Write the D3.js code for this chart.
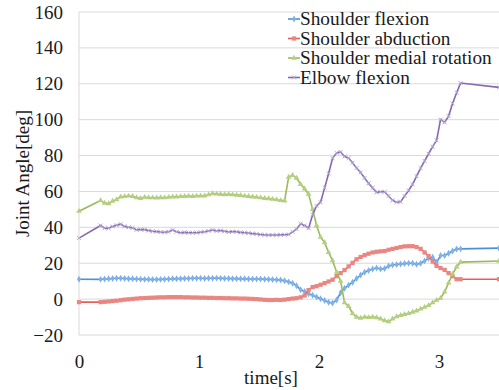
<!DOCTYPE html>
<html>
<head>
<meta charset="utf-8">
<script src="https://cdn.jsdelivr.net/npm/d3@7"></script>
<style>
  body { margin: 0; background: #fff; }
</style>
</head>
<body>
<div id="chart"></div>
<script>
// tempo (s): amostra inicial, trecho a ~30 Hz, amostra final
const times = [0,
  0.18, 0.213, 0.247, 0.28, 0.313, 0.347, 0.38, 0.413, 0.447, 0.48,
  0.513, 0.547, 0.58, 0.613, 0.647, 0.68, 0.713, 0.747, 0.78, 0.813,
  0.847, 0.88, 0.913, 0.947, 0.98, 1.013, 1.047, 1.08, 1.113, 1.147,
  1.18, 1.213, 1.247, 1.28, 1.313, 1.347, 1.38, 1.413, 1.447, 1.48,
  1.513, 1.547, 1.58, 1.613, 1.647, 1.68, 1.713, 1.747, 1.78, 1.813,
  1.847, 1.88, 1.913, 1.947, 1.98, 2.013, 2.047, 2.08, 2.113, 2.147,
  2.18, 2.213, 2.247, 2.28, 2.313, 2.347, 2.38, 2.413, 2.447, 2.48,
  2.513, 2.547, 2.58, 2.613, 2.647, 2.68, 2.713, 2.747, 2.78, 2.813,
  2.847, 2.88, 2.913, 2.947, 2.98, 3.013, 3.047, 3.08, 3.113, 3.147,
  3.18,
  3.5];

const shoulderFlexion = [11.1,
  11.0, 11.2, 11.3, 11.5, 11.6, 11.6, 11.5, 11.4, 11.3, 11.2,
  11.1, 11.0, 11.0, 10.9, 10.9, 11.0, 11.1, 11.2, 11.3, 11.4,
  11.4, 11.5, 11.5, 11.6, 11.6, 11.6, 11.5, 11.6, 11.6, 11.7,
  11.6, 11.5, 11.5, 11.4, 11.4, 11.3, 11.3, 11.2, 11.2, 11.2,
  11.2, 11.1, 11.0, 10.9, 10.8, 10.6, 10.2, 9.6, 8.8, 7.5,
  5.2, 4.2, 3.0, 2.2, 1.2, 0.2, -0.8, -1.8, -2.2, -0.5,
  3.5, 6.0, 7.8, 9.4, 11.5, 13.4, 15.0, 16.0, 16.8, 17.3,
  16.8, 17.0, 18.5, 19.0, 19.3, 19.6, 19.8, 20.0, 20.0, 19.4,
  20.0, 21.3, 22.8, 23.4, 20.5, 24.3, 24.3, 25.5, 26.8, 27.9,
  28.0,
  28.4];

const shoulderAbduction = [-1.7,
  -1.7, -1.5, -1.3, -1.1, -0.9, -0.6, -0.3, -0.1, 0.1, 0.3,
  0.5, 0.6, 0.7, 0.8, 0.9, 1.0, 1.0, 1.1, 1.1, 1.1,
  1.1, 1.0, 1.0, 0.9, 0.9, 0.8, 0.8, 0.7, 0.7, 0.6,
  0.6, 0.5, 0.5, 0.4, 0.4, 0.3, 0.3, 0.2, 0.1, 0.0,
  -0.2, -0.4, -0.5, -0.5, -0.4, -0.5, -0.3, 0.0, 0.3, 0.5,
  1.0, 2.0, 5.0, 6.7, 7.2, 8.0, 8.9, 9.8, 10.8, 12.8,
  14.5, 16.2, 18.2, 20.2, 22.2, 23.5, 24.5, 25.3, 26.0, 26.4,
  26.6, 26.8, 27.5, 28.0, 28.5, 29.0, 29.4, 29.5, 29.5, 29.0,
  28.0, 26.0, 24.0, 21.0, 18.5, 17.3, 16.3, 14.5, 12.8, 11.1,
  11.1,
  11.1];

const shoulderMedialRotation = [49,
  55.0, 53.5, 53.2, 54.6, 55.5, 57.0, 57.2, 57.5, 57.3, 56.6,
  56.2, 56.8, 56.6, 56.5, 56.4, 56.6, 56.5, 56.8, 57.0, 57.0,
  57.2, 57.3, 57.4, 57.3, 57.5, 57.6, 57.6, 58.2, 58.8, 58.6,
  58.4, 58.3, 58.4, 58.2, 58.0, 57.8, 57.5, 57.3, 57.0, 56.8,
  56.5, 56.2, 56.0, 55.7, 55.4, 55.0, 54.8, 68.0, 69.0, 67.5,
  64.0, 61.5, 58.5, 50.0, 41.0, 34.5, 31.5, 26.0, 21.5, 15.0,
  10.0, -2.0, -4.0, -8.0, -10.0, -10.6, -10.0, -10.2, -10.0, -10.3,
  -11.0, -12.0, -12.5, -11.0, -9.7, -9.0, -8.5, -8.0, -7.2, -6.5,
  -5.5, -4.5, -3.5, -2.0, -0.6, 0.5, 4.0, 9.0, 14.0, 18.0,
  20.6,
  21.2];

const elbowFlexion = [34,
  41.0, 39.5, 39.5, 40.5, 41.2, 41.8, 40.5, 40.0, 39.7, 38.6,
  38.8, 38.7, 38.2, 37.8, 37.6, 37.4, 37.3, 37.5, 38.5, 37.5,
  37.0, 37.2, 37.0, 37.0, 37.0, 37.3, 37.5, 38.0, 38.5, 38.0,
  38.2, 37.8, 37.4, 37.6, 37.5, 37.2, 37.0, 36.8, 36.5, 36.3,
  36.0, 35.8, 35.7, 35.7, 35.7, 35.8, 35.9, 36.0, 37.5, 39.0,
  42.0, 41.0, 39.5, 47.0, 52.0, 54.0, 62.0, 70.0, 78.5, 81.5,
  82.0, 79.5, 78.6, 76.0, 73.0, 70.5, 67.5, 64.5, 62.0, 59.5,
  59.8, 59.8, 57.5, 55.0, 54.0, 54.2, 57.5, 60.5, 64.0, 68.5,
  73.0, 77.0, 81.0, 85.0, 88.5, 100.0, 98.5, 102.0, 109.0, 115.0,
  120.4,
  118.0];

const seriesNames = ["Shoulder flexion", "Shoulder abduction", "Shoulder medial rotation", "Elbow flexion"];
const yTicks = [-20, 0, 20, 40, 60, 80, 100, 120, 140, 160];
const xTicks = [0, 1, 2, 3];

const width = 499, height = 390;
const margin = { top: 12, right: 0, bottom: 55, left: 79 };
const serif = '"Liberation Serif"';
const ink = "#1a1a1a";

const series = [
  { name: seriesNames[0], values: shoulderFlexion, color: "#4f8fd8", mark: "#7fb0e6", symbol: d3.symbolDiamond, size: 14 },
  { name: seriesNames[1], values: shoulderAbduction, color: "#e0605c", mark: "#e98682", symbol: d3.symbolSquare, size: 18 },
  { name: seriesNames[2], values: shoulderMedialRotation, color: "#9bbb59", mark: "#b5cf82", symbol: d3.symbolTriangle, size: 14 },
  { name: seriesNames[3], values: elbowFlexion, color: "#8468b0", mark: "#b8a8d6", symbol: d3.symbolTimes, size: 12 }
];

const svg = d3.select("#chart").append("svg")
  .attr("width", width)
  .attr("height", height);

const x = d3.scaleLinear().domain([0, 3.5]).range([margin.left, width - margin.right]);
const y = d3.scaleLinear().domain([-20, 160]).range([height - margin.bottom, margin.top]);

// grade horizontal
svg.append("g")
  .selectAll("line")
  .data(yTicks)
  .enter().append("line")
  .attr("x1", margin.left)
  .attr("x2", width - margin.right)
  .attr("y1", d => y(d))
  .attr("y2", d => y(d))
  .style("stroke", "#d9d9d9")
  .style("stroke-width", 1);

svg.append("line")
  .attr("x1", margin.left).attr("x2", margin.left)
  .attr("y1", y(160)).attr("y2", y(-20))
  .style("stroke", "#d9d9d9");

// eixo y
const yAxis = svg.append("g")
  .attr("transform", `translate(${margin.left - 16},0)`)
  .call(d3.axisLeft(y).tickValues(yTicks).tickSize(0).tickPadding(0));
yAxis.select(".domain").remove();
yAxis.selectAll("text")
  .style("font-family", serif)
  .style("font-size", "19px")
  .style("fill", ink);

// eixo x
const xAxis = svg.append("g")
  .attr("transform", `translate(0,${y(-20) + 19})`)
  .call(d3.axisBottom(x).tickValues(xTicks).tickFormat(d3.format("d")).tickSize(0).tickPadding(0));
xAxis.select(".domain").remove();
xAxis.selectAll("text")
  .style("font-family", serif)
  .style("font-size", "19px")
  .style("fill", ink);

svg.append("text")
  .attr("x", 271)
  .attr("y", 384)
  .attr("text-anchor", "middle")
  .style("font-family", serif)
  .style("font-size", "19px")
  .style("fill", ink)
  .text("time[s]");

svg.append("text")
  .attr("transform", `translate(29,${(y(160) + y(-20)) / 2}) rotate(-90)`)
  .attr("text-anchor", "middle")
  .style("font-family", serif)
  .style("font-size", "19px")
  .style("fill", ink)
  .text("Joint Angle[deg]");

const line = d3.line()
  .x((d, i) => x(times[i]))
  .y(d => y(d));

series.forEach(s => {
  const g = svg.append("g");
  g.append("path")
    .datum(s.values)
    .attr("d", line)
    .style("fill", "none")
    .style("stroke", s.color)
    .style("stroke-width", 1.6);

  g.selectAll("path.mk")
    .data(s.values)
    .enter().append("path")
    .attr("class", "mk")
    .attr("transform", (d, i) => `translate(${x(times[i])},${y(d)})`)
    .attr("d", d3.symbol().type(s.symbol).size(s.size))
    .style("fill", s.symbol === d3.symbolTimes ? "none" : s.mark)
    .style("stroke", s.symbol === d3.symbolTimes ? s.mark : "none")
    .style("stroke-width", 1);
});

// legenda
const legend = svg.append("g");
series.forEach((s, i) => {
  const ly = 19 + i * 19.5;
  legend.append("line")
    .attr("x1", 288).attr("x2", 300)
    .attr("y1", ly).attr("y2", ly)
    .style("stroke", s.color)
    .style("stroke-width", 1.6);
  legend.append("path")
    .attr("transform", `translate(294,${ly})`)
    .attr("d", d3.symbol().type(s.symbol).size(s.size))
    .style("fill", s.symbol === d3.symbolTimes ? "none" : s.mark)
    .style("stroke", s.symbol === d3.symbolTimes ? s.mark : "none");
  legend.append("text")
    .attr("x", 300)
    .attr("y", ly + 6)
    .style("font-family", serif)
    .style("font-size", "19.3px")
    .style("fill", ink)
    .text(s.name);
});
</script>
</body>
</html>
